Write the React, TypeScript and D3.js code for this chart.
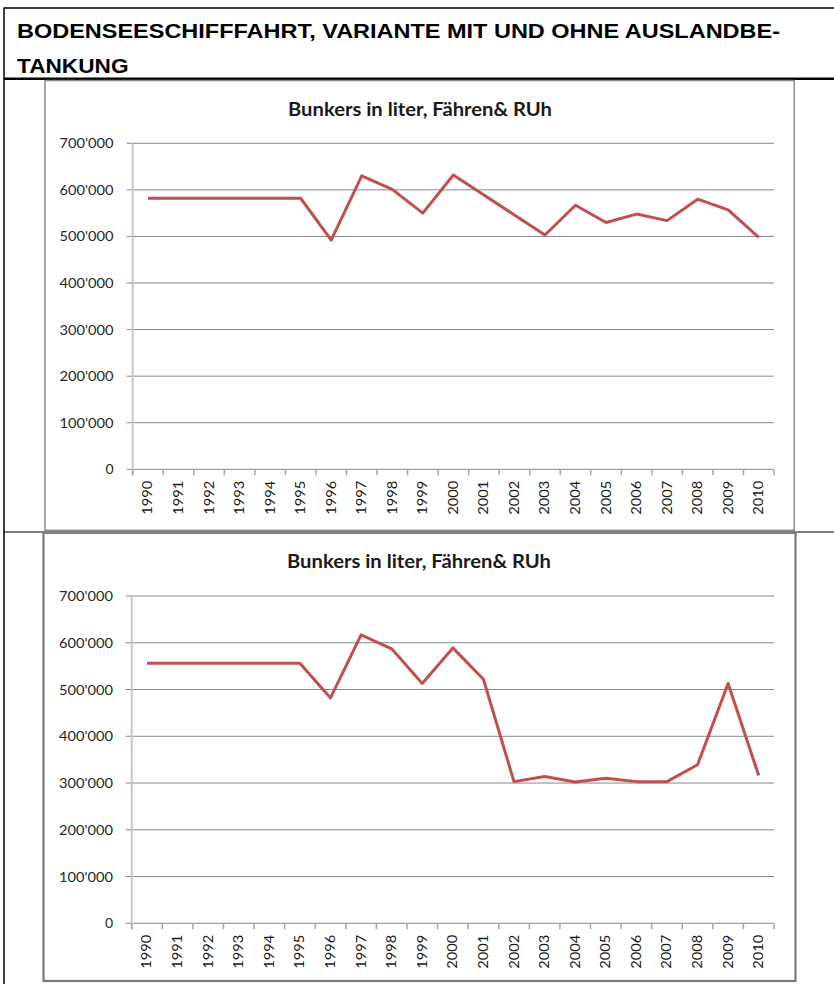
import React from "react";
import * as d3 from "d3";

const years: string[] = [
  "1990","1991","1992","1993","1994","1995","1996","1997","1998","1999","2000",
  "2001","2002","2003","2004","2005","2006","2007","2008","2009","2010",
];

// Variante mit Auslandbetankung (top chart)
const valuesWith: number[] = [
  582000, 582000, 582000, 582000, 582000, 582000, 492000, 630000, 601000, 550000, 632000,
  589000, 546000, 503000, 567000, 530000, 548000, 534000, 580000, 557000, 498000,
];

// Variante ohne Auslandbetankung (bottom chart)
const valuesWithout: number[] = [
  556000, 556000, 556000, 556000, 556000, 556000, 482000, 617000, 587000, 513000, 589000,
  522000, 303000, 314000, 302000, 310000, 303000, 303000, 339000, 513000, 316000,
];

const yTicks: number[] = [0, 100000, 200000, 300000, 400000, 500000, 600000, 700000];

const pageTitleLine1 = "BODENSEESCHIFFFAHRT, VARIANTE MIT UND OHNE AUSLANDBE-";
const pageTitleLine2 = "TANKUNG";
const chartTitle = "Bunkers in liter, Fähren& RUh";

const fmt = (v: number) => {
  if (v === 0) return "0";
  const s = String(v);
  return s.slice(0, s.length - 3) + "'" + s.slice(s.length - 3);
};

type ChartProps = {
  values: number[];
  frame: { x0: number; y0: number; x1: number; y1: number; stroke: string; sw: number };
  plot: { left: number; right: number; top: number; bottom: number };
  titleX: number;
  titleY: number;
  labelRight: number;
};

const FONT = "Lato, 'Open Sans', sans-serif";

function Chart({ values, frame, plot, titleX, titleY, labelRight }: ChartProps) {
  const x = d3.scaleBand<string>().domain(years).range([plot.left, plot.right]).padding(0);
  const y = d3.scaleLinear().domain([0, 700000]).range([plot.bottom, plot.top]);
  const line = d3
    .line<number>()
    .x((_, i) => (x(years[i]) as number) + x.bandwidth() / 2)
    .y((d) => y(d));
  const boundaries = years.map((yr) => x(yr) as number).concat([plot.right]);
  return (
    <g>
      <rect
        x={frame.x0}
        y={frame.y0}
        width={frame.x1 - frame.x0}
        height={frame.y1 - frame.y0}
        fill="#ffffff"
        stroke={frame.stroke}
        strokeWidth={frame.sw}
      />
      <text
        x={titleX}
        y={titleY}
        textAnchor="middle"
        fontFamily={FONT}
        fontWeight="bold"
        fontSize={18}
        fill="#1a1a1a"
        textLength={264}
        lengthAdjust="spacingAndGlyphs"
      >
        {chartTitle}
      </text>
      {yTicks.map((t) => (
        <g key={t}>
          <line
            x1={plot.left - 6}
            x2={plot.right}
            y1={y(t)}
            y2={y(t)}
            stroke="#878787"
            strokeWidth={1}
          />
          <text
            x={labelRight}
            y={y(t) + 5}
            textAnchor="end"
            fontFamily={FONT}
            fontSize={14}
            fill="#262626"
            textLength={t === 0 ? undefined : 54}
            lengthAdjust="spacingAndGlyphs"
          >
            {fmt(t)}
          </text>
        </g>
      ))}
      <line
        x1={plot.left}
        x2={plot.left}
        y1={plot.top}
        y2={plot.bottom + 6}
        stroke="#c8c8c8"
        strokeWidth={2}
      />
      {boundaries.map((b, i) => (
        <line
          key={i}
          x1={b}
          x2={b}
          y1={plot.bottom}
          y2={plot.bottom + 6}
          stroke="#a6a6a6"
          strokeWidth={1.5}
        />
      ))}
      {years.map((yr) => {
        const cx = (x(yr) as number) + x.bandwidth() / 2;
        const ty = plot.bottom + 11.5;
        return (
          <text
            key={yr}
            transform={`translate(${cx + 4.5},${ty}) rotate(-90)`}
            textAnchor="end"
            fontFamily={FONT}
            fontSize={13}
            fill="#1a1a1a"
            textLength={34}
            lengthAdjust="spacingAndGlyphs"
          >
            {yr}
          </text>
        );
      })}
      <path
        d={line(values) || ""}
        fill="none"
        stroke="#c0504d"
        strokeWidth={3}
        strokeLinejoin="round"
      />
    </g>
  );
}

export default function App() {
  return (
    <svg
      width={834}
      height={984}
      style={{ position: "absolute", left: 0, top: 0, background: "#ffffff" }}
    >
      <rect x={0} y={0} width={834} height={984} fill="#ffffff" />
      <line x1={4} x2={834} y1={8} y2={8} stroke="#000" strokeWidth={1.5} />
      <line x1={4} x2={4} y1={7.5} y2={984} stroke="#000" strokeWidth={1.5} />
      <text
        x={17}
        y={37.5}
        fontFamily="'Liberation Sans', Arial, sans-serif"
        fontWeight="bold"
        fontSize={20}
        fill="#000"
        textLength={763}
        lengthAdjust="spacingAndGlyphs"
      >
        {pageTitleLine1}
      </text>
      <text
        x={17}
        y={72.7}
        fontFamily="'Liberation Sans', Arial, sans-serif"
        fontWeight="bold"
        fontSize={20}
        fill="#000"
        textLength={111.5}
        lengthAdjust="spacingAndGlyphs"
      >
        {pageTitleLine2}
      </text>
      <line x1={4} x2={834} y1={78.7} y2={78.7} stroke="#000" strokeWidth={2.5} />
      <line x1={4} x2={834} y1={532} y2={532} stroke="#000" strokeWidth={1} />
      <Chart
        values={valuesWith}
        frame={{ x0: 45, y0: 80.5, x1: 794.3, y1: 530.3, stroke: "#8c8c8c", sw: 1.5 }}
        plot={{ left: 132.7, right: 774, top: 143.3, bottom: 469.3 }}
        titleX={420}
        titleY={116}
        labelRight={113.5}
      />
      <Chart
        values={valuesWithout}
        frame={{ x0: 43.5, y0: 532.8, x1: 795.5, y1: 981, stroke: "#7a7a7a", sw: 2.2 }}
        plot={{ left: 131.7, right: 774, top: 596, bottom: 923.3 }}
        titleX={419}
        titleY={567.5}
        labelRight={113}
      />
    </svg>
  );
}
